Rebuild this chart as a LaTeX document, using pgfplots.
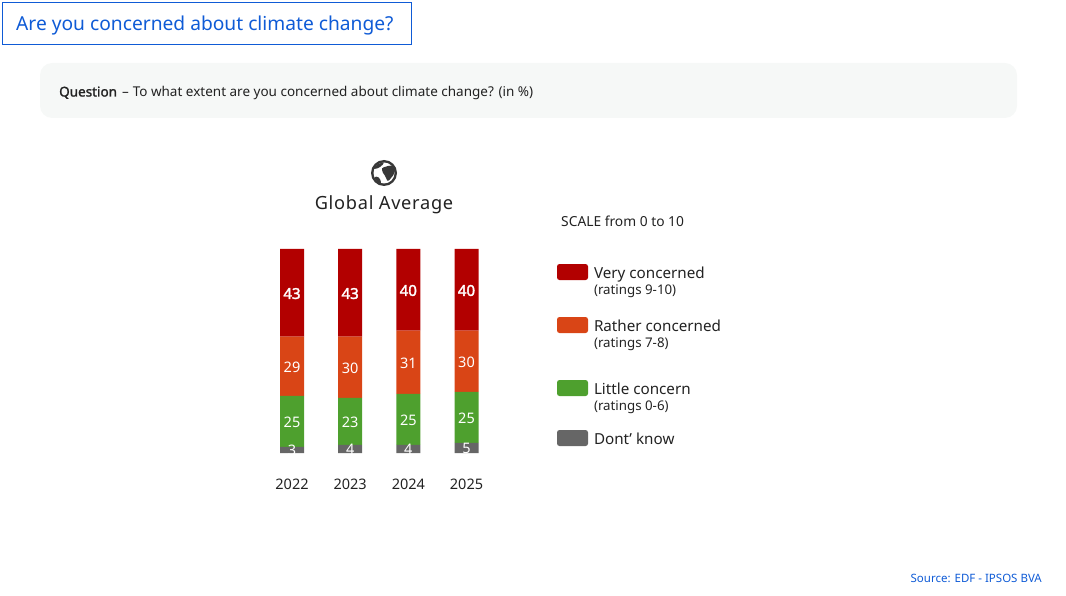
\documentclass[border=0pt]{standalone}
\usepackage{fontspec}
\setmainfont{Noto Sans}
\newfontfamily\spaced[LetterSpace=4]{Noto Sans}
\newfontfamily\fb[FakeBold=1.6]{Noto Sans}
\newfontfamily\fbb[FakeBold=2.4]{Noto Sans}
\usepackage{pgfplots}
\usepackage{pgfplotstable}
\pgfplotsset{compat=1.18}
\definecolor{cred}{HTML}{B20000}
\definecolor{corange}{HTML}{D94516}
\definecolor{cgreen}{HTML}{4EA02E}
\definecolor{cgray}{HTML}{666666}
\definecolor{cblue}{HTML}{0F5BD6}
\definecolor{cpanel}{HTML}{F6F8F7}
\definecolor{ctext}{HTML}{222222}
\newcommand{\fs}[1]{\fontsize{#1}{#1}\selectfont}
\newcommand{\entry}[2]{\parbox[t]{170pt}{\fs{15.2}\strut #1\\[1.5pt]\fs{13.3}#2}}
\pgfplotsset{swatch/.style={legend image code/.code={\fill[##1,rounded corners=2.5pt] (0pt,-7pt) rectangle (31pt,9pt);\path (0pt,-#1pt) (0pt,13pt);}}}
\pgfplotstableread{
x know little rather very
0 3 25 29 43
1 4 23 30 43
2 4 25 31 40
3 5 25 30 40
}\datatable
\begin{document}
\begin{tikzpicture}[x=1pt,y=1pt]
\path[use as bounding box] (0,0) rectangle (1066,595);
% header
\draw[cblue,line width=1pt] (2.5,595-2.5) rectangle (411.5,595-44.5);
\node[anchor=base west,inner sep=0,text=cblue] at (16,595-30.5) {\fs{19.2}Are you concerned about climate change?};
\fill[cpanel,rounded corners=12pt] (40,595-63) rectangle (1017,595-118);
\node[anchor=base west,inner sep=0,text=ctext] at (59,595-96.5) {\fs{13.5}{\fb Question}\hspace{1.5pt} -- \hspace{0.5pt}To what extent are you concerned about climate change? (in \%)};
% globe icon
\fill[ctext!90] (384,595-173) circle (13);
\fill[white] (384,595-173) circle (10.5);
\fill[ctext!90] (382,595-170) .. controls (381,595-167) and (386,595-167) .. (388,595-166) .. controls (391,595-165) and (393,595-165) .. (395,595-168) .. controls (395,595-172) and (394,595-175) .. (391,595-178) .. controls (389,595-181) and (387,595-182) .. (386.5,595-179) .. controls (386,595-175) and (383,595-175) .. (382,595-170) -- cycle;
\fill[ctext!90] (374,595-169) .. controls (375,595-165) and (379,595-163) .. (384,595-162.5) .. controls (383,595-165) and (379,595-169) .. (374,595-169) -- cycle;
\fill[ctext!90] (374.5,595-177) .. controls (377,595-176) and (381,595-177) .. (381,595-184) .. controls (378,595-183) and (375.5,595-181) .. (374.5,595-177) -- cycle;
\node[anchor=base,inner sep=0,text=ctext] at (384,595-210) {\fs{18.2}\spaced Global Average};
\node[anchor=base west,inner sep=0,text=ctext] at (561,595-227) {\fs{13.8}SCALE from 0 to 10};
\node[anchor=base east,inner sep=0,text=cblue] at (1042,595-582) {\fs{11.5}Source: EDF - IPSOS BVA};
\begin{axis}[
  at={(250pt,142pt)}, anchor=south west,
  /pgf/number format/assume math mode=true,
  scale only axis, width=260pt, height=204pt,
  xmin=-0.7221, xmax=3.7478, ymin=0, ymax=100,
  axis line style={draw=none},
  major tick length=0pt,
  ytick=\empty,
  clip=false,
  ybar stacked, bar width=24pt,
  xtick={0,1,2,3},
  xticklabels={2022,2023,2024,2025},
  xticklabel style={font=\fs{14.5},text=ctext,inner sep=0pt,anchor=base,yshift=-36pt},
  nodes near coords,
  nodes near coords style={font=\fs{14.5},text=white,inner sep=0pt,anchor=center,yshift=-0.7pt},
  every axis plot/.append style={draw=none},
  legend style={at={(1.1808,0.946)},anchor=north west,draw=none,fill=none,inner sep=0pt,outer sep=0pt,
    row sep=0pt,column sep=6pt,nodes={inner sep=0pt,text=ctext}},
  legend cell align=left,
  reverse legend,
]
\addplot[fill=cgray,swatch=3] table[x=x,y=know] {\datatable};
\addplot[fill=cgreen,swatch=37] table[x=x,y=little] {\datatable};
\addplot[fill=corange,swatch=50] table[x=x,y=rather] {\datatable};
\addplot[fill=cred,swatch=40,nodes near coords style={font=\fs{15}\fbb}] table[x=x,y=very] {\datatable};
\addlegendentry{\parbox[t]{170pt}{\fs{15.2}\strut Dont’ know}}
\addlegendentry{\entry{Little concern}{(ratings 0-6)}}
\addlegendentry{\entry{Rather concerned}{(ratings 7-8)}}
\addlegendentry{\entry{Very concerned}{(ratings 9-10)}}
\end{axis}
\end{tikzpicture}
\end{document}
